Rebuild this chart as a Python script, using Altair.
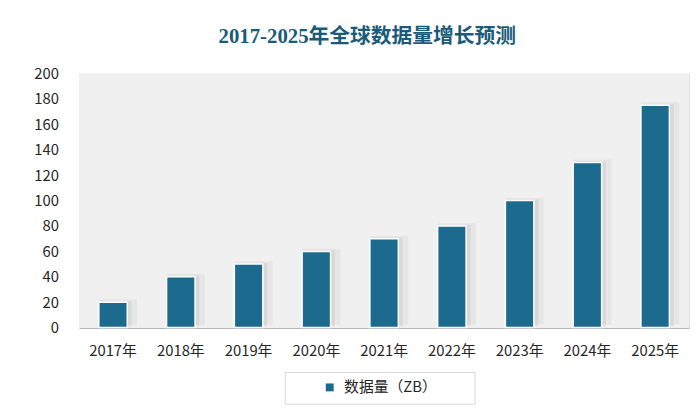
import altair as alt
import pandas as pd

years = ["2017年", "2018年", "2019年", "2020年", "2021年", "2022年", "2023年", "2024年", "2025年"]
values = [20, 40, 50, 60, 70, 80, 100, 130, 175]
series_name = "数据量（ZB）"
y_ticks = [0, 20, 40, 60, 80, 100, 120, 140, 160, 180, 200]

df = pd.DataFrame({"year": years, "value": values, "series": series_name})

W, H = 617, 257
BAR = "#1c6b8e"
TITLE_COLOR = "#1a5b7a"
TEXT = "#262626"
CJK = "Noto Sans CJK SC"

bg = alt.Chart(df).mark_rect(fill="#f0f0f0").encode(
    x=alt.value(0), x2=alt.value("width"), y=alt.value(0), y2=alt.value("height")
)

xenc = alt.X(
    "year:N",
    sort=years,
    scale=alt.Scale(paddingInner=0.58, paddingOuter=0.29),
    axis=alt.Axis(
        title=None, labelAngle=0, ticks=False, domainColor="#a6a6a6", domainWidth=1.5,
        labelFont=CJK, labelFontSize=15, labelColor=TEXT, labelPadding=16,
    ),
)
yenc = alt.Y(
    "value:Q",
    scale=alt.Scale(domain=[0, 200], nice=False),
    axis=alt.Axis(
        title=None, values=y_ticks, grid=False, domain=False, ticks=False,
        labelFont=CJK, labelFontSize=15, labelColor=TEXT, labelPadding=21,
    ),
)

shadow1 = alt.Chart(df).mark_bar(color="#000000", opacity=0.04, xOffset=5, yOffset=-3,
                                 width=alt.RelativeBandSize(1.35)).encode(x=xenc, y=yenc)
shadow2 = alt.Chart(df).mark_bar(color="#000000", opacity=0.06, xOffset=3, yOffset=-1,
                                 width=alt.RelativeBandSize(1.1)).encode(x=xenc, y=yenc)

bars = alt.Chart(df).mark_bar(stroke="white", strokeWidth=1.5).encode(
    x=xenc,
    y=yenc,
    color=alt.Color(
        "series:N",
        scale=alt.Scale(range=[BAR]),
        legend=alt.Legend(
            title="\u3000", titleOrient="right", titleFontSize=15, titleFont=CJK,
            titlePadding=30,
            orient="none", legendX=208, legendY=302,
            symbolType="square", symbolSize=64, symbolStrokeWidth=0, symbolOffset=30,
            labelFont=CJK, labelFontSize=15, labelColor=TEXT, labelOffset=7,
            padding=8, strokeColor="#d9d9d9", fillColor="#ffffff",
        ),
    ),
)

chart = alt.layer(bg, shadow1, shadow2, bars).properties(
    width=W,
    height=H,
    autosize=alt.AutoSizeParams(type="none"),
    padding={"left": 72, "top": 64, "right": 3, "bottom": 80},
    title=alt.TitleParams(
        "2017-2025年全球数据量增长预测",
        font="Liberation Serif, Noto Sans CJK SC",
        fontSize=21, fontWeight="bold", color=TITLE_COLOR,
        anchor="middle", dx=-17, offset=20,
    ),
).configure_view(stroke=None).configure(background="white")

chart.save("out.html", embed_options={"renderer": "svg", "actions": False})
